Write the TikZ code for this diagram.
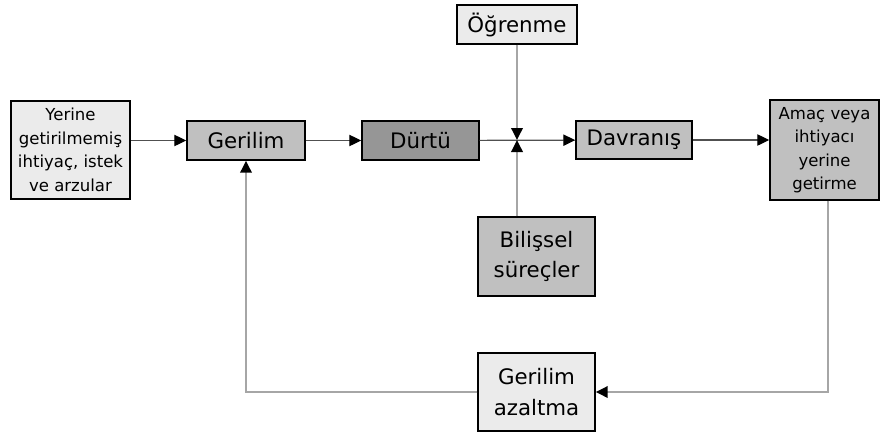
\documentclass[tikz,border=0pt]{standalone}
\usepackage{fontspec}
\setmainfont{DejaVu Sans}
\usetikzlibrary{arrows.meta, positioning}
\definecolor{lightFill}{HTML}{EBEBEB}
\definecolor{midFill}{HTML}{C0C0C0}
\definecolor{darkFill}{HTML}{969696}
\definecolor{flowGray}{HTML}{505050}
\definecolor{loopGray}{HTML}{A6A6A6}
\tikzset{
	boxBase/.style={draw=black, line width=1.1pt, inner sep=0pt, align=center, font=\fontsize{16}{23}\selectfont},
	lightBox/.style={boxBase, fill=lightFill},
	midBox/.style={boxBase, fill=midFill},
	darkBox/.style={boxBase, fill=darkFill},
	smallText/.style={font=\fontsize{12.4}{17.6}\selectfont},
	tipEnd/.style={-{Triangle[length=9pt 0, width=8.5pt 0, color=black]}},
	flowLine/.style={draw=flowGray, line width=0.9pt, tipEnd},
	loopLine/.style={draw=loopGray, line width=1.8pt, tipEnd}
}

\begin{document}
\begin{tikzpicture}[x=0.75pt, y=-0.75pt]
				\useasboundingbox (0,0) rectangle (880,436);
				% Top row
				\node[lightBox, smallText, minimum width=119*0.75pt, minimum height=98*0.75pt] (yerine) at (70.5,150) {Yerine\\getirilmemiş\\ihtiyaç, istek\\ve arzular};
				\node[midBox, minimum width=118*0.75pt, minimum height=39*0.75pt] (gerilim) at (246,140.5) {Gerilim};
				\node[darkBox, minimum width=117*0.75pt, minimum height=39*0.75pt] (durtu) at (420.5,140.5) {Dürtü};
				\node[midBox, minimum width=116*0.75pt, minimum height=38*0.75pt] (davranis) at (634,140) {Davranış};
				\node[midBox, smallText, minimum width=109*0.75pt, minimum height=100*0.75pt] (amac) at (824.5,150) {Amaç veya\\ihtiyacı\\yerine\\getirme};
				% Side boxes
				\node[lightBox, minimum width=120*0.75pt, minimum height=39*0.75pt] (ogrenme) at (517,24.5) {Öğrenme};
				\node[midBox, minimum width=117*0.75pt, minimum height=79*0.75pt] (bilissel) at (536.5,256.5) {Bilişsel\\süreçler};
				\node[lightBox, minimum width=117*0.75pt, minimum height=78*0.75pt] (azaltma) at (536.5,392) {Gerilim\\azaltma};
				\coordinate (junction) at (517,140);
				% Main flow
				\draw[flowLine] (yerine.east |- gerilim.west) -- (gerilim.west);
				\draw[flowLine] (gerilim) -- (durtu);
				\draw[flowLine] (durtu) -- (davranis);
				\draw[flowLine] (davranis.east) -- (amac.west |- davranis.east);
				\draw[loopLine] (ogrenme) -- (junction);
				\draw[loopLine] (junction |- bilissel.north) -- (junction);
				% Feedback loop
				\draw[loopLine] ([xshift=2.6pt]amac.south) |- (azaltma.east);
				\draw[loopLine] (azaltma.west) -| (gerilim.south);
			\end{tikzpicture}
\end{document}
